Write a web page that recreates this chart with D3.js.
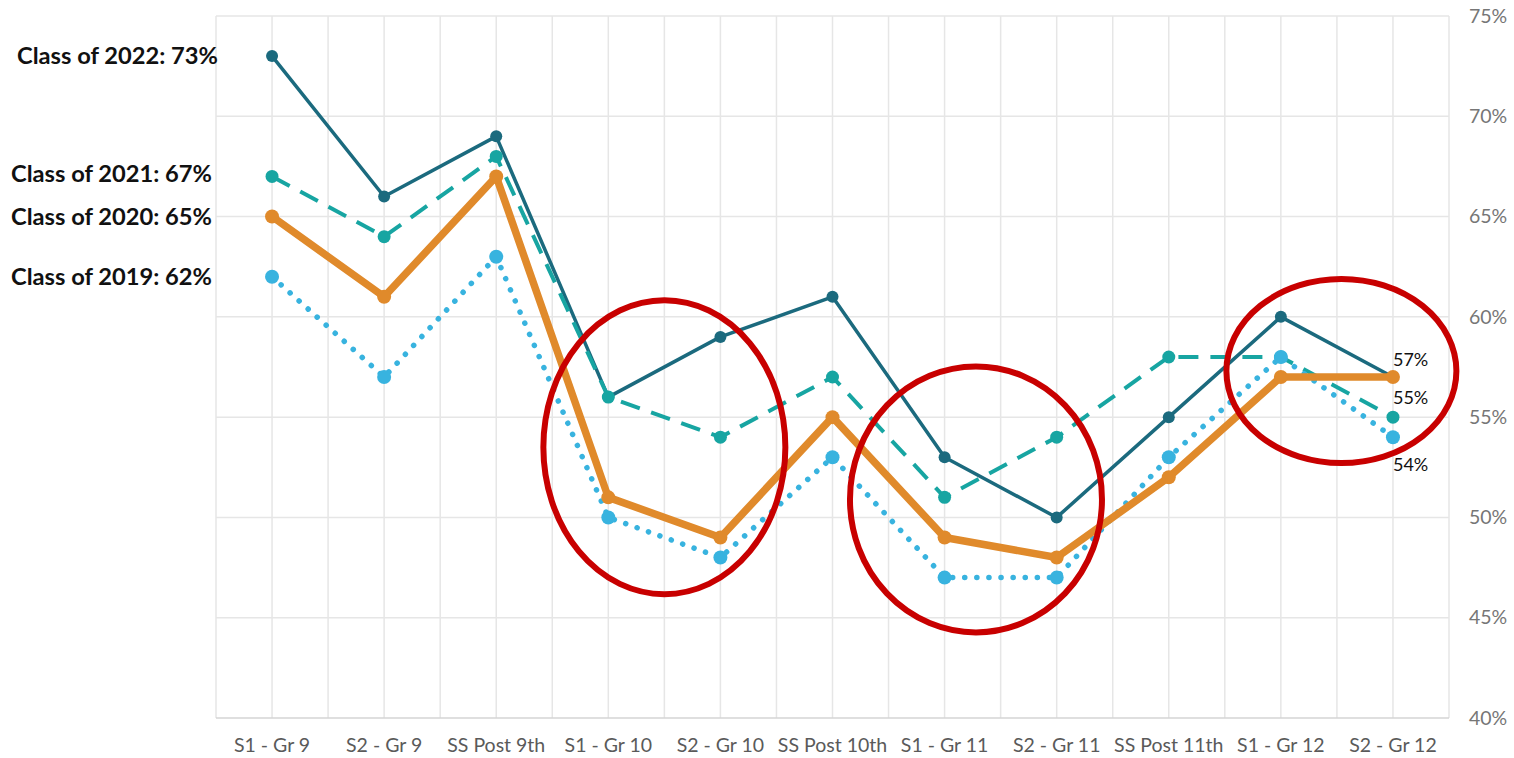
<!DOCTYPE html>
<html>
<head>
<meta charset="utf-8">
<script src="https://cdn.jsdelivr.net/npm/d3@7"></script>
<style>
  body { margin: 0; background: #fff; }
  text { font-family: Lato, "Open Sans", sans-serif; }
</style>
</head>
<body>
<div id="vis"></div>
<script>
// datos
const categories = ["S1 - Gr 9", "S2 - Gr 9", "SS Post 9th", "S1 - Gr 10", "S2 - Gr 10",
  "SS Post 10th", "S1 - Gr 11", "S2 - Gr 11", "SS Post 11th", "S1 - Gr 12", "S2 - Gr 12"];
const class2022 = [73, 66, 69, 56, 59, 61, 53, 50, 55, 60, 57];
const class2021 = [67, 64, 68, 56, 54, 57, 51, 54, 58, 58, 55];
const class2020 = [65, 61, 67, 51, 49, 55, 49, 48, 52, 57, 57];
const class2019 = [62, 57, 63, 50, 48, 53, 47, 47, 53, 58, 54];
const yTicks = [40, 45, 50, 55, 60, 65, 70, 75];
const leftLabels = ["Class of 2022: 73%", "Class of 2021: 67%", "Class of 2020: 65%", "Class of 2019: 62%"];
const endLabels = ["57%", "55%", "54%"];

const width = 1514, height = 758;
const plotLeft = 216, plotRight = 1449, plotTop = 16, plotBottom = 718;

const svg = d3.select("#vis").append("svg")
  .attr("width", width).attr("height", height);

const x = d3.scaleBand().domain(categories).range([plotLeft, plotRight]);
const y = d3.scaleLinear().domain([40, 75]).range([plotBottom, plotTop]);
const cx = d => x(d) + x.bandwidth() / 2;

// rejilla vertical (centros y bordes de cada banda)
const vLines = [];
categories.forEach(c => { vLines.push(x(c)); vLines.push(cx(c)); });
vLines.push(plotRight);
svg.selectAll("line.vgrid").data(vLines).enter().append("line")
  .attr("class", "vgrid")
  .attr("x1", d => d).attr("x2", d => d)
  .attr("y1", plotTop).attr("y2", plotBottom)
  .attr("stroke", "#e6e6e6").attr("stroke-width", 1.5);

// rejilla horizontal
svg.selectAll("line.hgrid").data(yTicks).enter().append("line")
  .attr("class", "hgrid")
  .attr("x1", plotLeft).attr("x2", plotRight)
  .attr("y1", d => y(d)).attr("y2", d => y(d))
  .attr("stroke", d => d === 40 ? "#d4d4d4" : "#e6e6e6").attr("stroke-width", 1.5);

// eje y a la derecha
const yAxis = svg.append("g")
  .attr("transform", `translate(${plotRight},0)`)
  .call(d3.axisRight(y).tickValues(yTicks).tickFormat(d => d + "%").tickSize(0).tickPadding(20));
yAxis.select(".domain").remove();
yAxis.selectAll("text").attr("fill", "#767676").attr("font-size", 19.5);

// eje x
const xAxis = svg.append("g")
  .attr("transform", `translate(0,${plotBottom})`)
  .call(d3.axisBottom(x).tickSize(0).tickPadding(20));
xAxis.select(".domain").remove();
xAxis.selectAll("text").attr("fill", "#5a5a5a").attr("font-size", 19.5);

const series = [
  { name: "2022", values: class2022, color: "#1b6a7e", width: 3.5, dash: null, r: 6 },
  { name: "2021", values: class2021, color: "#17a5a2", width: 4, dash: "20,12", r: 6.5 },
  { name: "2019", values: class2019, color: "#38b3df", width: 5.5, dash: "0.1,12", r: 7 },
  { name: "2020", values: class2020, color: "#e08a2b", width: 7.5, dash: null, r: 7 }
];

const line = d3.line().x((d, i) => cx(categories[i])).y(d => y(d));

series.forEach(s => {
  svg.append("path")
    .datum(s.values)
    .attr("d", line)
    .attr("fill", "none")
    .attr("stroke", s.color)
    .attr("stroke-width", s.width)
    .attr("stroke-linecap", s.dash ? (s.name === "2019" ? "round" : "butt") : "round")
    .attr("stroke-linejoin", "round")
    .attr("stroke-dasharray", s.dash);

  svg.selectAll("circle.p" + s.name)
    .data(s.values).enter().append("circle")
    .attr("class", "p" + s.name)
    .attr("cx", (d, i) => cx(categories[i]))
    .attr("cy", d => y(d))
    .attr("r", s.r)
    .attr("fill", s.color);
});

// etiquetas de la izquierda
const leftPos = [{ v: 73, xe: 218 }, { v: 67.15, xe: 212 }, { v: 65, xe: 212 }, { v: 62, xe: 212 }];
svg.selectAll("text.lbl").data(leftLabels).enter().append("text")
  .attr("class", "lbl")
  .attr("x", (d, i) => leftPos[i].xe)
  .attr("y", (d, i) => y(leftPos[i].v))
  .attr("dy", "0.35em")
  .attr("text-anchor", "end")
  .attr("font-size", 23.7)
  .attr("font-weight", "bold")
  .attr("fill", "#111")
  .text(d => d);

// etiquetas al final
const endVals = [class2022[10], class2021[10], class2019[10]];
const endOffsets = [-17, -19, 27];
svg.selectAll("text.end").data(endLabels).enter().append("text")
  .attr("class", "end")
  .attr("x", cx(categories[10]))
  .attr("y", (d, i) => y(endVals[i]) + endOffsets[i])
  .attr("dy", "0.35em")
  .attr("font-size", 18)
  .attr("fill", "#111")
  .text(d => d);

// elipses rojas (posicion en unidades de banda desde el borde izquierdo)
const ellipses = [
  { c: 4.0, v: 53.5, rx: 121, ry: 147 },
  { c: 6.78, v: 50.9, rx: 126, ry: 133 },
  { c: 10.04, v: 57.3, rx: 115, ry: 92 }
];
svg.selectAll("ellipse").data(ellipses).enter().append("ellipse")
  .attr("cx", d => plotLeft + d.c * x.bandwidth())
  .attr("cy", d => y(d.v))
  .attr("rx", d => d.rx)
  .attr("ry", d => d.ry)
  .attr("fill", "none")
  .attr("stroke", "#c80000")
  .attr("stroke-width", 6);
</script>
</body>
</html>
